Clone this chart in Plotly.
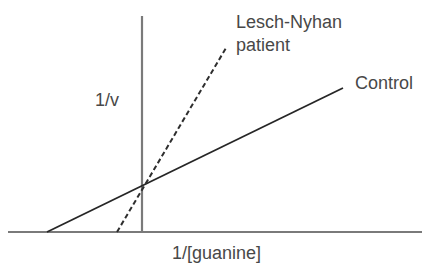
import plotly.graph_objects as go

# Lineweaver-Burk style schematic (arbitrary units)
control_x = [-0.95, 2.01]
control_y = [0.0, 1.44]
patient_x = [-0.25, 0.84]
patient_y = [0.0, 1.84]

axis_x_range = [-1.34, 2.80]   # extent of horizontal axis line
axis_y_top = 2.16              # top of vertical axis line

x_title = "1/[guanine]"
y_title = "1/v"
control_label = "Control"
patient_label = "Lesch-Nyhan<br>patient"

fig = go.Figure()

axis_color = "#7a7a7a"
# horizontal axis
fig.add_trace(go.Scatter(x=axis_x_range, y=[0, 0], mode="lines",
                         line=dict(color=axis_color, width=2.2), hoverinfo="skip"))
# vertical axis
fig.add_trace(go.Scatter(x=[0, 0], y=[0, axis_y_top], mode="lines",
                         line=dict(color=axis_color, width=2.2), hoverinfo="skip"))

fig.add_trace(go.Scatter(x=control_x, y=control_y, mode="lines",
                         line=dict(color="#262626", width=1.8), name="Control"))
fig.add_trace(go.Scatter(x=patient_x, y=patient_y, mode="lines",
                         line=dict(color="#2e2e2e", width=2, dash="5px,3px"),
                         name="Lesch-Nyhan patient"))

font = dict(family="Liberation Sans, Arial, sans-serif", size=18, color="#484848")

fig.add_annotation(x=control_x[1] + 0.10, y=control_y[1] + 0.05, text=control_label,
                   showarrow=False, xanchor="left", yanchor="middle", font=font)
fig.add_annotation(x=patient_x[1] + 0.08, y=patient_y[1] + 0.15, text=patient_label,
                   showarrow=False, xanchor="left", yanchor="middle", align="left",
                   font=font)
fig.add_annotation(x=-0.49, y=1.32, text=y_title, showarrow=False,
                   xanchor="left", yanchor="middle", font=font)
fig.add_annotation(x=0.28, y=-0.21, text=x_title, showarrow=False,
                   xanchor="left", yanchor="middle", font=font)

fig.update_layout(
    width=424, height=266,
    margin=dict(l=0, r=0, t=0, b=0),
    paper_bgcolor="white", plot_bgcolor="white",
    showlegend=False,
    xaxis=dict(range=[-1.42, 2.82], visible=False, fixedrange=True),
    yaxis=dict(range=[-0.34, 2.32], visible=False, fixedrange=True),
)

fig.write_html("out.html", config={"displayModeBar": False},
               post_script="document.body.style.margin='0';document.body.style.overflow='hidden';")
